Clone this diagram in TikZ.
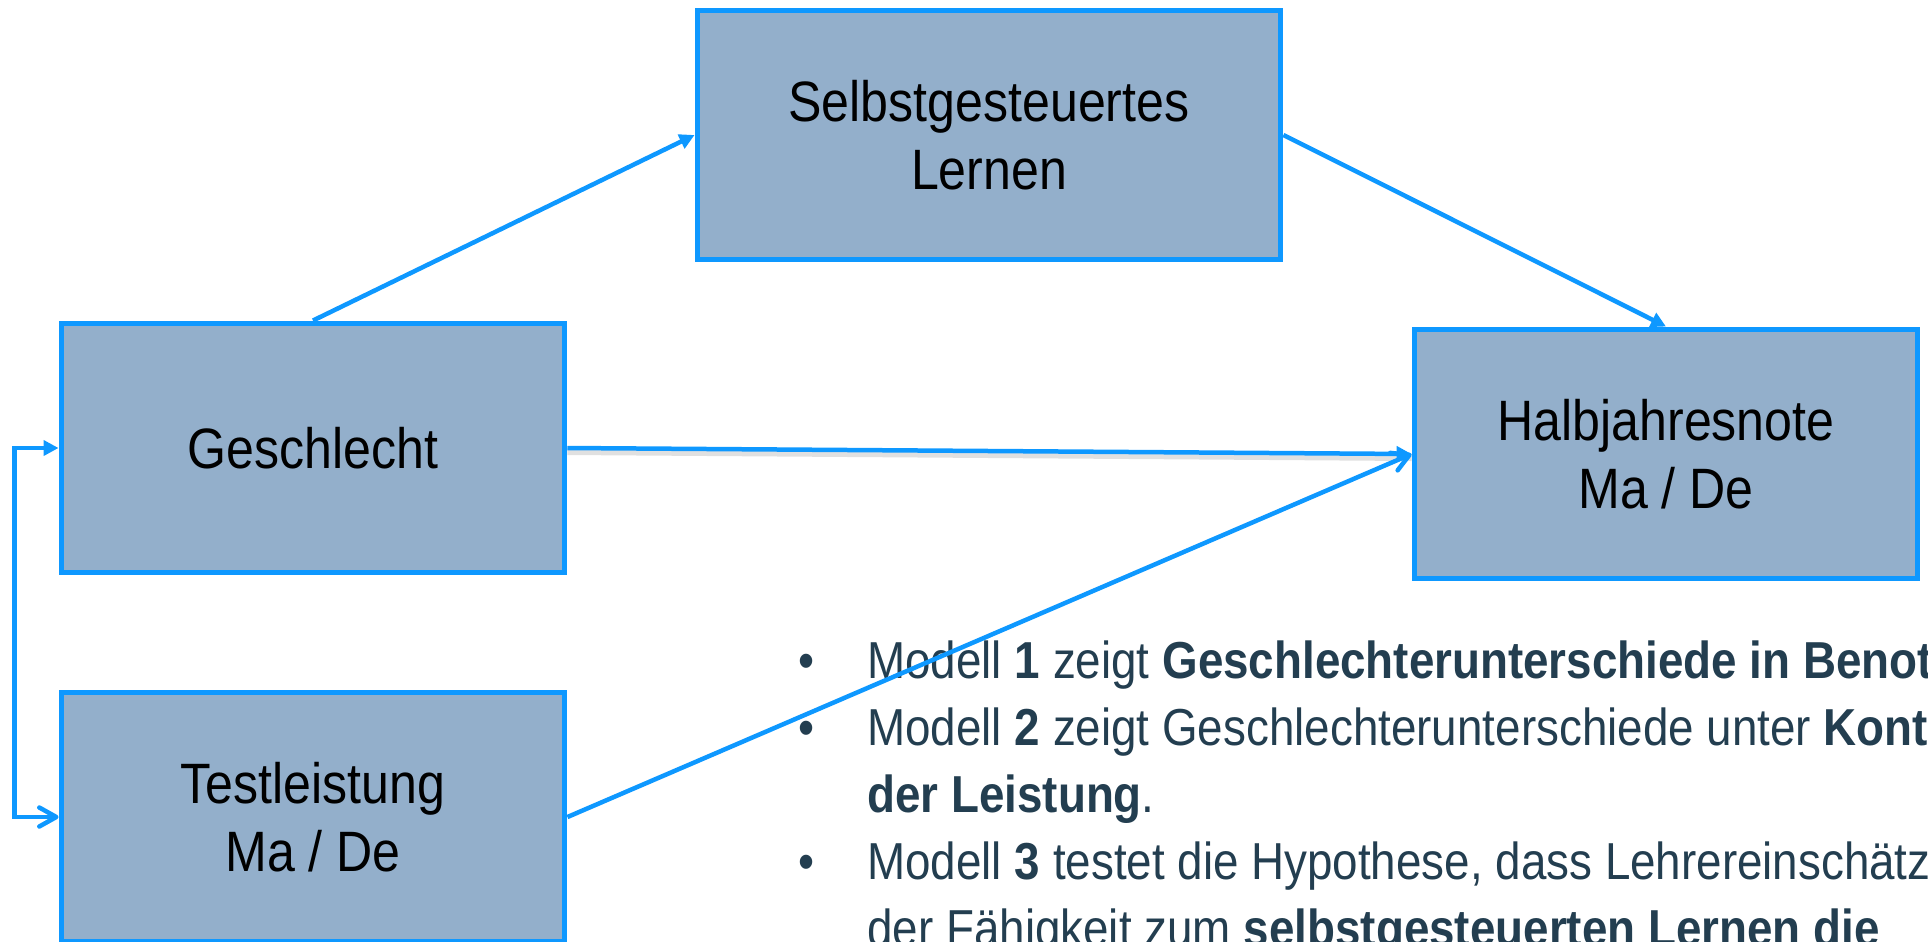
\documentclass[tikz,border=0pt]{standalone}
\usepackage{fontspec}
\setmainfont{Liberation Sans}[FakeStretch=0.88]
\usetikzlibrary{arrows.meta}

\definecolor{boxfill}{RGB}{147,175,203}
\definecolor{boxline}{RGB}{14,152,255}
\definecolor{notetext}{RGB}{35,62,80}

\tikzset{
  filltip/.tip={Triangle[length=0.3cm,width=0.3cm]},
  opentip/.tip={Straight Barb[length=0.34cm,width=0.38cm,round]},
  var/.style={draw=boxline,fill=boxfill,line width=0.1cm,minimum width=10.08cm,
    minimum height=5cm,align=center,inner sep=0pt,
    font=\fontsize{32.4}{38.5}\selectfont},
  link/.style={draw=boxline,line width=0.09cm},
  shadowed/.style={preaction={draw=black,opacity=0.12,arrows=-,line width=0.14cm,
    transform canvas={yshift=-0.07cm}}},
  note/.style={anchor=base west,inner sep=0pt,text=notetext,
    font=\fontsize{29.6}{38}\selectfont}
}

\begin{document}
\begin{tikzpicture}[x=0.02cm,y=-0.02cm]
\useasboundingbox (0,0) rectangle (1928,941);

% Variables
\node[var,minimum width=11.68cm] (selbst) at (989,135) {Selbstgesteuertes\\Lernen};
\node[var] (geschl) at (313,448) {Geschlecht};
\node[var] (test) at (313,817) {Testleistung\\Ma / De};
\node[var] (halbj) at (1666,454) {Halbjahresnote\\Ma / De};

% Notes on the models
\node[note] (line1) at (798,678) {\makebox[1.38cm][l]{\textbullet}Modell \textbf{1} zeigt \textbf{Geschlechterunterschiede in Benot}};
\node[note] (line2) at (798,745) {\makebox[1.38cm][l]{\textbullet}Modell \textbf{2} zeigt Geschlechterunterschiede unter \textbf{Kont}};
\node[note] (line3) at (867,812) {\textbf{der Leistung}.};
\node[note] (line4) at (798,879) {\makebox[1.38cm][l]{\textbullet}Modell \textbf{3} testet die Hypothese, dass Lehrereinschätz};
\node[note] (line5) at (867,946) {der Fähigkeit zum \textbf{selbstgesteuerten Lernen die}};

% Paths
\draw[link,-filltip] (geschl.north) -- (selbst.west);
\draw[link,-filltip] (selbst.east) -- (halbj.north);
\draw[link,-filltip,shadowed] (geschl.east) -- (halbj.west);
\draw[link,-opentip] (test.east) -- (halbj.west);

% Correlation
\draw[link,filltip-opentip] (geschl.west) -- ++(-44,0) |- (test.west);
\end{tikzpicture}
\end{document}
